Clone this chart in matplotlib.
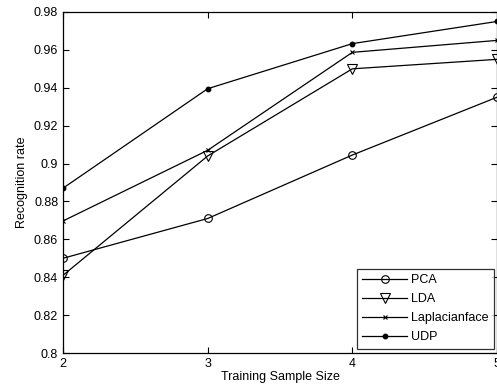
import matplotlib
matplotlib.use("Agg")
import matplotlib.pyplot as plt
from matplotlib.ticker import FuncFormatter

sample_sizes = [2, 3, 4, 5]
pca = [0.850, 0.871, 0.9045, 0.935]
lda = [0.841, 0.904, 0.950, 0.955]
laplacianface = [0.8697, 0.907, 0.9587, 0.965]
udp = [0.887, 0.9395, 0.9633, 0.975]

plt.rcParams["font.family"] = ["Liberation Sans", "DejaVu Sans"]

fig = plt.figure(figsize=(4.97, 3.88), dpi=100)
ax = fig.add_axes([0.1268, 0.0902, 0.8732, 0.8789])

lw = 0.9
ax.plot(sample_sizes, pca, color="black", lw=lw, marker="o", ms=5.5, mfc="none", mew=0.8, label="PCA")
ax.plot(sample_sizes, lda, color="black", lw=lw, marker="v", ms=6.5, mfc="none", mew=0.8, label="LDA")
ax.plot(sample_sizes, laplacianface, color="black", lw=lw, marker="x", ms=3.5, mew=0.8, label="Laplacianface")
ax.plot(sample_sizes, udp, color="black", lw=lw, marker="o", ms=3.2, label="UDP")

ax.set_xlim(2, 5)
ax.set_ylim(0.8, 0.98)
ax.set_xticks(sample_sizes)
ax.set_yticks([0.8 + 0.02 * i for i in range(10)])
ax.yaxis.set_major_formatter(FuncFormatter(lambda v, p: f"{v:.2f}".rstrip("0").rstrip(".")))
ax.tick_params(direction="in", top=True, right=True, labelsize=9, length=4, width=0.8)
for s in ax.spines.values():
    s.set_linewidth(0.9)

ax.set_xlabel("Training Sample Size", fontsize=9, labelpad=1)
ax.set_ylabel("Recognition rate", fontsize=9, labelpad=4)

leg = ax.legend(loc="lower right", bbox_to_anchor=(1.004, 0.0), fontsize=9, frameon=True,
                fancybox=False, edgecolor="black", handlelength=3.6, borderpad=0.45,
                labelspacing=0.55, handletextpad=0.3, borderaxespad=0.35)
leg.get_frame().set_linewidth(0.9)

fig.savefig("out.png", dpi=100)
